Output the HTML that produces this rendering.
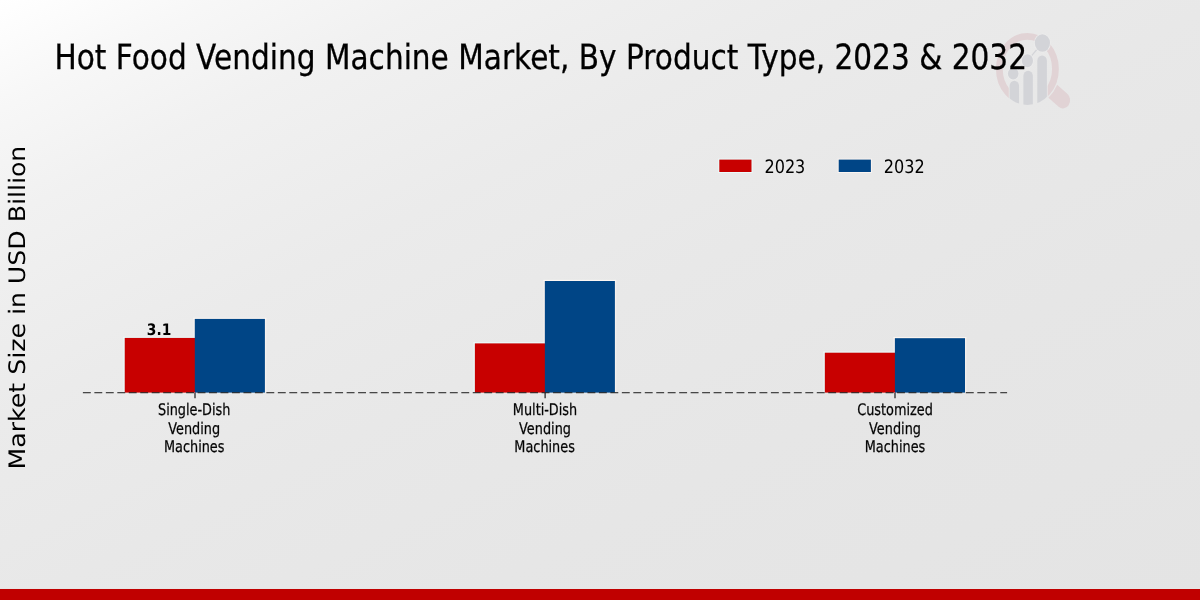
<!DOCTYPE html>
<html lang="en">
<head>
<meta charset="utf-8">
<title>Hot Food Vending Machine Market, By Product Type, 2023 &amp; 2032</title>
<style>
html,body{margin:0;padding:0;background:#e8e8e8;}
body{width:1200px;height:600px;overflow:hidden;}
svg{display:block;}
text{font-family:"DejaVu Sans","Liberation Sans",sans-serif;fill:#000;text-rendering:geometricPrecision;}
.b{font-weight:bold;}
</style>
</head>
<body>
<svg width="1200" height="600" viewBox="0 0 1200 600">
<defs>
<linearGradient id="bg" gradientUnits="userSpaceOnUse" x1="0" y1="0" x2="480" y2="960">
<stop offset="0" stop-color="#ffffff"/>
<stop offset="0.0917" stop-color="#f7f7f7"/>
<stop offset="0.1833" stop-color="#f1f1f1"/>
<stop offset="0.2625" stop-color="#eeeeee"/>
<stop offset="0.35" stop-color="#ebebeb"/>
<stop offset="0.51" stop-color="#e8e8e8"/>
<stop offset="0.69" stop-color="#e6e6e6"/>
<stop offset="1" stop-color="#e4e4e4"/>
</linearGradient>
<clipPath id="ringclip">
<rect x="980" y="20" width="110" height="49"/>
<rect x="980" y="69" width="28.8" height="50"/>
<rect x="1047.7" y="69" width="40" height="50"/>
</clipPath>
<clipPath id="outer">
<ellipse cx="1027.4" cy="68.9" rx="31.4" ry="36"/>
</clipPath>
</defs>
<rect x="0" y="0" width="1200" height="600" fill="url(#bg)"/>


<!-- watermark logo -->
<g id="logo">
<g clip-path="url(#ringclip)">
<ellipse cx="1027.4" cy="68.9" rx="28.05" ry="32.6" fill="none" stroke="#e1d3d5" stroke-width="6.8"/>
</g>
<g transform="translate(1027.4,68.9) scale(0.872,1)">
<path d="M36.7,-8.2 L51.4,-8.2 A8.2,8.2 0 0 1 51.4,8.2 L36.7,8.2 A37.6,37.6 0 0 0 36.7,-8.2 Z" fill="#e1d3d5" transform="rotate(37.5)"/>
</g>
<g clip-path="url(#outer)" fill="#d3d4d8">
<rect x="1009.6" y="80.8" width="9.45" height="40" rx="4.72" ry="5.2"/>
<rect x="1023.4" y="70.8" width="9.45" height="50" rx="4.72" ry="5.2"/>
<rect x="1037.3" y="55.5" width="9.6" height="60" rx="4.8" ry="5.3"/>
</g>
<g stroke="#d3d4d8" stroke-width="1.2">
<line x1="1013.2" y1="73.6" x2="1027.4" y2="60.7"/>
<line x1="1027.4" y1="60.7" x2="1042.4" y2="43"/>
</g>
<g fill="#d3d4d8" stroke="#ececec" stroke-width="1.6" paint-order="stroke">
<ellipse cx="1013.2" cy="73.6" rx="5.3" ry="5.8"/>
<ellipse cx="1027.4" cy="60.7" rx="5.6" ry="6.5"/>
<ellipse cx="1042.4" cy="43" rx="7.6" ry="8.8"/>
</g>
</g>

<!-- title -->
<text id="title" transform="translate(54.4,68.75) scale(0.853,1)" font-size="34.7" stroke="#000" stroke-width="0.3">Hot Food Vending Machine Market, By Product Type, 2023 &amp; 2032</text>

<!-- y label -->
<text id="ylabel" transform="translate(25.3,469.4) scale(0.9,1) rotate(-90)" font-size="25.2">Market Size in USD Billion</text>

<!-- legend -->
<rect x="718.3" y="158.6" width="34.2" height="14.4" fill="#ebffff" opacity="0.8"/>
<rect x="719.3" y="159.6" width="32.2" height="12.4" fill="#c80000"/>
<text id="l1" transform="translate(764.4,172.8) scale(0.872,1)" font-size="18.47">2023</text>
<rect x="837.7" y="158.6" width="34.2" height="14.4" fill="#fff8f3" opacity="0.8"/>
<rect x="838.7" y="159.6" width="32.2" height="12.4" fill="#004586"/>
<text id="l2" transform="translate(883.8,172.8) scale(0.872,1)" font-size="18.47">2032</text>

<!-- bars -->
<g opacity="0.9">
<rect x="123.35" y="336.80" width="71.45" height="1.1" fill="#ebffff"/>
<rect x="123.35" y="336.80" width="1" height="55.20" fill="#ebffff" opacity="0.8"/>
<rect x="193.50" y="317.80" width="72.70" height="1.1" fill="#fff8f3"/>
<rect x="265.20" y="317.80" width="1" height="74.20" fill="#fff8f3" opacity="0.8"/>
<rect x="193.50" y="317.80" width="1" height="19.00" fill="#fff8f3" opacity="0.8"/>
<rect x="473.50" y="342.30" width="71.35" height="1.1" fill="#ebffff"/>
<rect x="473.50" y="342.30" width="1" height="49.70" fill="#ebffff" opacity="0.8"/>
<rect x="543.55" y="279.90" width="72.65" height="1.1" fill="#fff8f3"/>
<rect x="615.20" y="279.90" width="1" height="112.10" fill="#fff8f3" opacity="0.8"/>
<rect x="543.55" y="279.90" width="1" height="62.40" fill="#fff8f3" opacity="0.8"/>
<rect x="823.45" y="351.60" width="71.45" height="1.1" fill="#ebffff"/>
<rect x="823.45" y="351.60" width="1" height="40.40" fill="#ebffff" opacity="0.8"/>
<rect x="893.60" y="337.10" width="72.70" height="1.1" fill="#fff8f3"/>
<rect x="965.30" y="337.10" width="1" height="54.90" fill="#fff8f3" opacity="0.8"/>
<rect x="893.60" y="337.10" width="1" height="14.50" fill="#fff8f3" opacity="0.8"/>
</g>
<rect x="124.75" y="337.9" width="71.05" height="54.70" fill="#c80000"/>
<rect x="194.8" y="318.9" width="70.10" height="73.70" fill="#004586"/>
<rect x="474.9" y="343.4" width="70.95" height="49.20" fill="#c80000"/>
<rect x="544.85" y="281.0" width="70.05" height="111.60" fill="#004586"/>
<rect x="824.85" y="352.7" width="71.05" height="39.90" fill="#c80000"/>
<rect x="894.9" y="338.2" width="70.10" height="54.40" fill="#004586"/>

<!-- axis line -->
<line x1="82.9" y1="392.72" x2="1007.1" y2="392.72" stroke="#1a1a1a" stroke-width="1" stroke-dasharray="7.9 3.567"/>
<!-- ticks -->
<g stroke="#0a0a0a" stroke-width="1.1">
<line x1="195" y1="393" x2="195" y2="398.2"/>
<line x1="545.1" y1="393" x2="545.1" y2="398.2"/>
<line x1="895" y1="393" x2="895" y2="398.2"/>
</g>

<!-- bar label -->
<text id="v1" class="b" transform="translate(159.0,335) scale(0.872,1)" font-size="15.83" text-anchor="middle">3.1</text>

<!-- tick labels -->
<g font-size="16" text-anchor="middle" fill="#1a1a1a" stroke="#1a1a1a" stroke-width="0.3">
<text id="a1" transform="translate(194.2,414.75) scale(0.803,1)">Single-Dish</text>
<text id="a2" transform="translate(194.2,433.5) scale(0.803,1)">Vending</text>
<text id="a3" transform="translate(194.2,452.4) scale(0.803,1)">Machines</text>
<text id="b1" transform="translate(545,414.75) scale(0.803,1)">Multi-Dish</text>
<text id="b2" transform="translate(545,433.5) scale(0.803,1)">Vending</text>
<text id="b3" transform="translate(544.6,452.4) scale(0.803,1)">Machines</text>
<text id="c1" transform="translate(895,414.75) scale(0.803,1)">Customized</text>
<text id="c2" transform="translate(895,433.5) scale(0.803,1)">Vending</text>
<text id="c3" transform="translate(895,452.4) scale(0.803,1)">Machines</text>
</g>

<!-- bottom strip -->
<rect x="0" y="588" width="1200" height="1" fill="#ebffff"/>
<rect x="0" y="588.9" width="1200" height="11.1" fill="#c00000"/>
</svg>
</body>
</html>
